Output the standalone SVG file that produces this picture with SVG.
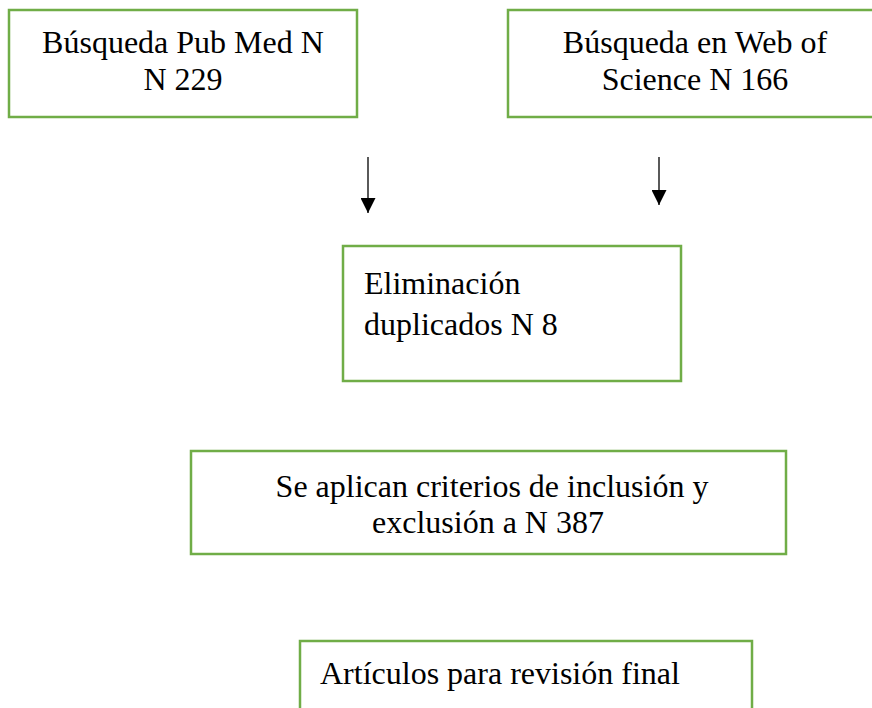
<svg xmlns="http://www.w3.org/2000/svg" width="872" height="708" viewBox="0 0 872 708">
<defs>
<style>
.box{fill:#fff;stroke:#70AD47;stroke-width:2.5}
.t{font-family:"Liberation Serif","Times New Roman",serif;font-size:32px;fill:#000}
.c{text-anchor:middle}
.ln{stroke:#000;stroke-width:1.3;fill:none}
</style>
<marker id="ah" viewBox="0 0 10 10" refX="10" refY="5" markerWidth="15" markerHeight="15" markerUnits="userSpaceOnUse" orient="auto">
<path d="M0,0 L10,5 L0,10 z" fill="#000"/>
</marker>
</defs>
<rect width="872" height="708" fill="#fff"/>
<g id="pubmed">
<rect class="box" x="9" y="10" width="348" height="107"/>
<text class="t c" x="183" y="53">Búsqueda Pub Med N</text>
<text class="t c" x="183" y="90">N 229</text>
</g>
<g id="wos">
<rect class="box" x="508" y="10" width="370" height="107"/>
<text class="t c" x="695" y="53">Búsqueda en Web of</text>
<text class="t c" x="695" y="90">Science N 166</text>
</g>
<g id="duplicados">
<rect class="box" x="343" y="246" width="338" height="135"/>
<text class="t" x="364" y="294">Eliminación</text>
<text class="t" x="364" y="335">duplicados N 8</text>
</g>
<g id="criterios">
<rect class="box" x="191" y="451" width="595" height="103"/>
<text class="t c" x="492" y="497">Se aplican criterios de inclusión y</text>
<text class="t c" x="488" y="533">exclusión a N 387</text>
</g>
<g id="final">
<rect class="box" x="300" y="641" width="452" height="80"/>
<text class="t" x="320" y="684">Artículos para revisión final</text>
</g>
<g id="connectors">
<line class="ln" x1="368" y1="157" x2="368" y2="213" marker-end="url(#ah)"/>
<line class="ln" x1="659" y1="157" x2="659" y2="205" marker-end="url(#ah)"/>
</g>
</svg>
